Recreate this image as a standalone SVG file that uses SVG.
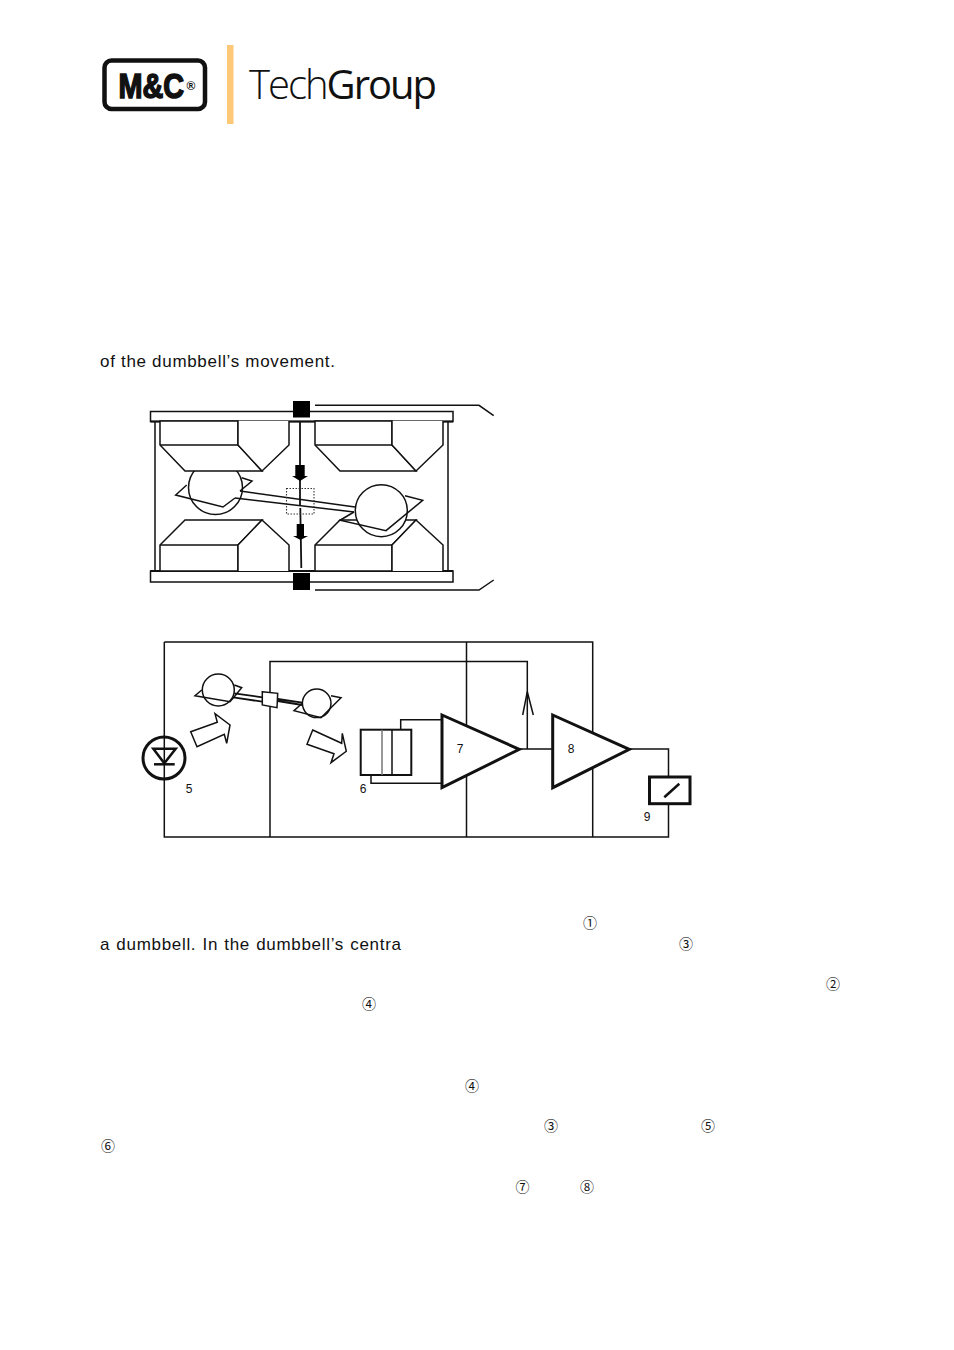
<svg xmlns="http://www.w3.org/2000/svg" width="954" height="1350" viewBox="0 0 954 1350">
<style>
.t{font-family:"Liberation Sans",Arial,sans-serif;font-size:17px;fill:#111;letter-spacing:.69px}
.c{font-family:"Noto Sans CJK JP","DejaVu Sans",sans-serif;font-size:14px;fill:#111;text-anchor:middle}
.n{font-family:"Liberation Sans",Arial,sans-serif;font-size:12px;fill:#111;text-anchor:middle}
.l{fill:none;stroke:#111;stroke-width:1.5}
.m{fill:none;stroke:#111;stroke-width:1.8}
.w{fill:#fff;stroke:#111;stroke-width:1.5}
.k{fill:#000}
.b{fill:#fff;stroke:#111;stroke-width:3}
</style>
<rect width="954" height="1350" fill="#fff"/>
<g id="logo">
<rect x="104.500" y="60.500" width="100.500" height="48.500" rx="7" fill="#fff" stroke="#111" stroke-width="4.500"/>
<text transform="translate(118.500 98.300) scale(.8 1)" font-family="Liberation Sans,Arial,sans-serif" font-weight="700" font-size="36" fill="#111" stroke="#111" stroke-width="1.600">M&amp;C</text>
<text x="191" y="89.500" font-family="Liberation Sans,Arial,sans-serif" font-weight="700" font-size="12" text-anchor="middle" fill="#111">®</text>
<rect x="227" y="45" width="6.500" height="79" fill="#fdc878"/>
<text x="249" y="98.500" font-family="Open Sans,sans-serif" font-size="40" letter-spacing="-2" fill="#111"><tspan font-weight="300">Tech</tspan><tspan font-weight="500">Group</tspan></text>
</g>
<g id="text">
<text class="t" x="100" y="367">of the dumbbell’s movement.</text>
<text class="t" x="100" y="949.500" word-spacing=".8">a dumbbell. In the dumbbell’s centra</text>
<text class="c" x="590" y="928">①</text>
<text class="c" x="686" y="949">③</text>
<text class="c" x="833" y="989">②</text>
<text class="c" x="369" y="1009">④</text>
<text class="c" x="472" y="1091">④</text>
<text class="c" x="551" y="1131">③</text>
<text class="c" x="708" y="1131">⑤</text>
<text class="c" x="108" y="1151">⑥</text>
<text class="c" x="522.500" y="1192">⑦</text>
<text class="c" x="587" y="1192">⑧</text>
</g>
<g id="cell">
<path class="l" d="M155 421V571M448 421V571"/>
<rect class="w" x="150.500" y="411.500" width="302.500" height="10"/>
<rect class="w" x="150.500" y="571" width="302.500" height="11"/>
<path class="m" d="M150.500 421.500H453M150.500 571H453"/>
<circle class="l" cx="215.500" cy="487.500" r="27"/>
<path class="w" d="M160 421V445L185 471H262L238 445V421Z"/>
<path class="w" d="M238 421V445L262 471L289 445V421"/>
<path class="w" d="M160 571V545L185 520H262L238 545V571Z"/>
<path class="w" d="M238 571V545L262 520L289 545V571"/>
<path class="w" d="M315 421V445L340 471H416L392 445V421Z"/>
<path class="w" d="M392 421V445L416 471L443 445V421"/>
<path class="w" d="M315 571V545L340 520H416L392 545V571Z"/>
<path class="w" d="M392 571V545L416 520L443 545V571"/>
<path class="l" d="M160 445H238M160 545H238M315 445H392M315 545H392"/>
<rect class="k" x="293" y="401" width="17" height="16.500"/>
<rect class="k" x="293" y="573" width="17" height="17"/>
<path class="l" d="M315 405.300H479L493.700 415.700M315 590H479L493.700 580"/>
<path class="l" d="M186.700 485L175.700 495L223 507L235 498M241.700 477.700L252 481L240 491"/>
<path class="l" d="M240 491L355 507M235 498L354 512"/>
<circle class="w" cx="381.300" cy="510.700" r="26"/>
<path class="l" d="M354 512L340 520.300L386 530.700L422.700 500.300L405 495.700"/>
<path class="m" d="M300 421.500V505M300.300 508L301.300 568"/>
<path class="k" d="M295.300 465H304.700V476H308L300 481L292 476H295.300Z"/>
<path class="k" d="M296.700 524H304V536H308L300.500 540L293 536H296.700Z"/>
<rect x="286.500" y="488.500" width="27.500" height="25.500" fill="none" stroke="#333" stroke-width="1.100" stroke-dasharray="1.500 1.500"/>
</g>
<g id="connectors">
<path class="l" d="M164.300 642H592.700V837M164.300 642V837H668.500V749H629M270 837V661.500H527.300V749M466.500 642V837"/>
<path class="l" d="M522.700 715L527.300 691.700L533.300 715"/>
<path class="l" d="M519 749H553M400.700 729.500V719.700H442M371 775V783.300H442"/>
</g>
<g id="node-5"><circle cx="164" cy="758" r="21" fill="none" stroke="#111" stroke-width="3"/><path d="M153.300 748.700H175.700L164.300 763.300Z" fill="none" stroke="#111" stroke-width="2.500"/><path d="M154 764.300H174.700" stroke="#111" stroke-width="2.500"/><text class="n" x="189" y="793">5</text></g>
<g id="dumbbell">
<circle class="l" cx="218.300" cy="690" r="16"/>
<path class="l" d="M201.700 690L195 695.700L230 701.700L234.300 696.700L241.700 687.700L234.300 685"/>
<path class="m" d="M234.300 693.300L262.300 697.300M233.300 697.300L262.300 701.700M277.700 699L302.300 702.700M277.700 701L302.300 705"/>
<polygon class="w" points="262.300,691.700 277.700,693.300 277,707.700 262.300,705"/>
<circle class="l" cx="316.700" cy="703.300" r="14.300"/>
<path class="l" d="M302.300 703.300L294 710.700L321 717.700L341 697.700L331 695.700"/>
<polygon class="w" points="190.700,731.700 217.300,722.300 215,713.700 230,725 226.700,743.300 224.300,734.300 197,746.700"/>
<polygon class="w" points="312.700,730 341.700,743.300 342.300,733.300 346.300,751.300 331,762.700 334,753.700 307,744.300"/>
</g>
<g id="node-6"><rect x="360.700" y="729.700" width="50.600" height="45.300" fill="#fff" stroke="#111" stroke-width="2"/><path d="M382 729.700V775" stroke="#777" stroke-width="1.500"/><path d="M392 729.700V775" stroke="#111" stroke-width="1.500"/><text class="n" x="363" y="793">6</text></g>
<g id="node-7"><polygon class="b" points="442,715 519.300,749.300 442,787.700"/><text class="n" x="460" y="752.500">7</text></g>
<g id="node-8"><polygon class="b" points="552.700,715 629.300,749.300 552.700,787.700"/><text class="n" x="571" y="752.500">8</text></g>
<g id="node-9"><rect class="b" x="649.500" y="777" width="40.500" height="26.700"/><path d="M664.300 797.300L679.300 783.700" stroke="#111" stroke-width="2.500"/><text class="n" x="647" y="821">9</text></g>
</svg>
